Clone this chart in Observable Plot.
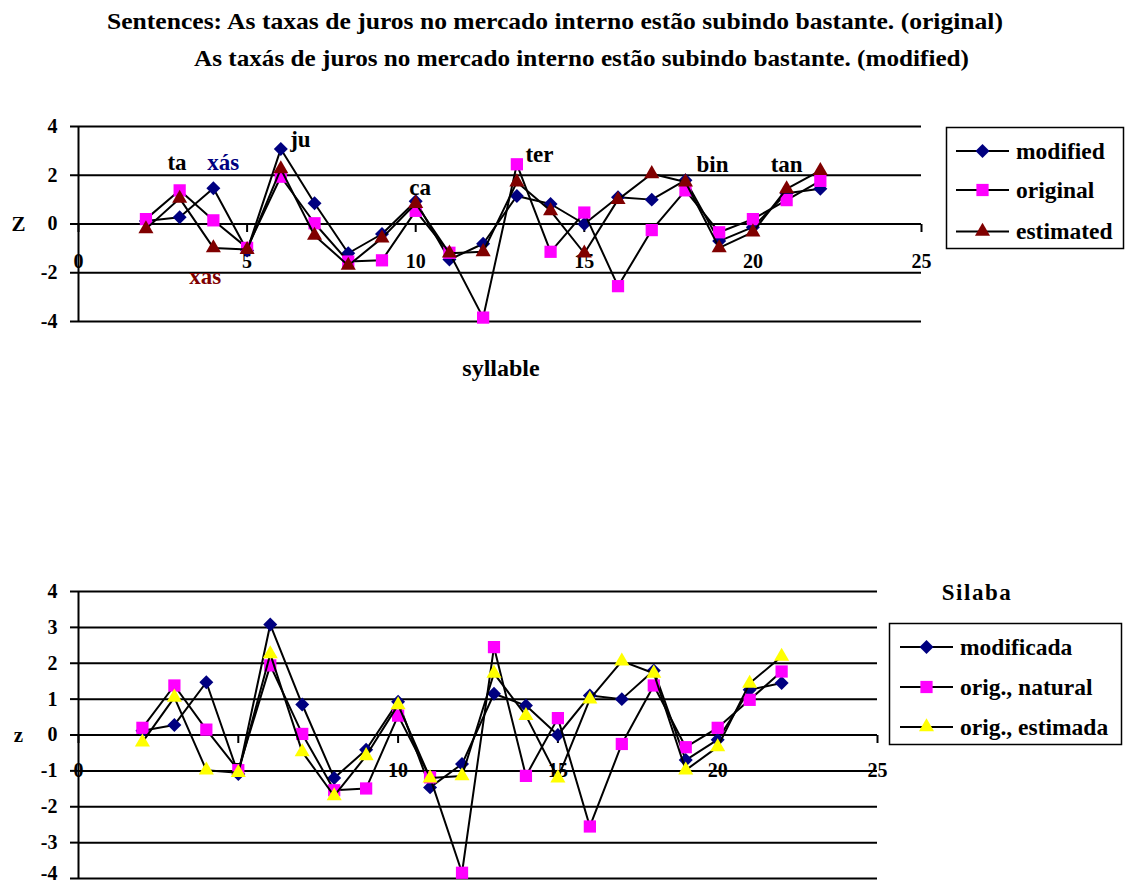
<!DOCTYPE html>
<html><head><meta charset="utf-8">
<script src="https://cdn.jsdelivr.net/npm/d3@7"></script>
<script src="https://cdn.jsdelivr.net/npm/@observablehq/plot@0.6"></script>
<style>
body{margin:0;background:#fff;}
#page{position:relative;width:1128px;height:884px;overflow:hidden;font-family:"Liberation Serif","Times New Roman",serif;font-weight:bold;background:#fff;}
.abs{position:absolute;left:0;}
</style></head><body><div id="page"></div>
<script>
// ---------- data ----------
const titleLines = [
  "Sentences: As taxas de juros no mercado interno estão subindo bastante. (original)",
  "As taxás de juros no mercado interno estão subindo bastante. (modified)"
];
const syllables = [2,3,4,5,6,7,8,9,10,11,12,13,14,15,16,17,18,19,20,21,22];
const modified  = [0.12,0.28,1.47,-1.09,3.08,0.85,-1.20,-0.41,0.93,-1.46,-0.81,1.15,0.82,0.00,1.10,1.00,1.80,-0.70,-0.13,1.26,1.45];
const original  = [0.20,1.38,0.15,-0.98,1.94,0.03,-1.54,-1.49,0.54,-1.18,-3.84,2.45,-1.14,0.47,-2.55,-0.25,1.38,-0.34,0.20,0.98,1.77];
const estimated = [-0.20,1.05,-0.98,-1.05,2.26,-0.47,-1.70,-0.58,0.84,-1.20,-1.14,1.72,0.54,-1.20,1.00,2.06,1.72,-0.98,-0.33,1.44,2.19];

const xTicks = [0,5,10,15,20,25];
const yTicksTop = [4,2,0,-2,-4];
const yTicksBottom = [4,3,2,1,0,-1,-2,-3,-4];

const namesTop = ["modified","original","estimated"];
const namesBottom = ["modificada","orig., natural","orig., estimada"];
const legendTitleBottom = "Silaba";

const annLabels = ["ta","xás","ju","xas","ca","ter","bin","tan"];
const annX = [2.92,4.29,6.58,3.76,10.13,13.67,18.8,21.0];
const annY = [2.51,2.51,3.45,-2.16,1.49,2.84,2.43,2.43];
const annColor = ["black","#000080","black","#800000","black","black","black","black"];

// ---------- styles ----------
const FONT = "'Liberation Serif', 'Times New Roman', serif";
const symbols = ["diamond2","square","triangle"];
const symR = [6.3, 6.9, 5.6];
const colorsTop = ["#000080","#FF00FF","#800000"];
const colorsBottom = ["#000080","#FF00FF","#FFFF00"];

const page = document.getElementById("page");

// ---------- title ----------
const tsvg = d3.create("svg").attr("width",1128).attr("height",80)
  .attr("class","abs").style("top","0px");
const tPos = [{x:555,y:29,len:896},{x:581.5,y:66,len:775}];
titleLines.forEach((t,i)=>{
  tsvg.append("text").attr("x",tPos[i].x).attr("y",tPos[i].y)
    .attr("text-anchor","middle").style("font-family",FONT).attr("font-weight","bold")
    .attr("font-size",23.5).attr("textLength",tPos[i].len).attr("lengthAdjust","spacingAndGlyphs")
    .text(t);
});
page.appendChild(tsvg.node());

// ---------- chart builder ----------
const tickDown = {draw(ctx){ ctx.moveTo(0,0); ctx.lineTo(0,8); }};

function series(vals){ return syllables.map((s,i)=>({x:s,y:vals[i]})); }

function makeChart(o){
  const marks = [];
  const low = o.yTicks[o.yTicks.length-1];
  marks.push(Plot.ruleY(o.yTicks,{y:d=>d,stroke:"black",strokeWidth:2}));
  marks.push(Plot.ruleX([0],{x:d=>d,stroke:"black",strokeWidth:2}));
  marks.push(Plot.axisY({ticks:o.yTicks,tickSize:8,tickPadding:13,
    tickFormat:d=>(o.lowShift && d===low) ? "" : String(d),label:null,
    fontSize:20,fontWeight:"bold",fontFamily:FONT,strokeWidth:2,stroke:"black",fill:"black"}));
  if(o.lowShift){
    marks.push(Plot.text([low],{y:d=>d,frameAnchor:"left",dx:-21,dy:o.lowShift,textAnchor:"end",
      text:d=>String(d),fontSize:20,fontWeight:"bold",fontFamily:FONT,fill:"black"}));
  }
  marks.push(Plot.dot(xTicks,{x:d=>d,y:()=>0,symbol:tickDown,stroke:"black",strokeWidth:2,r:3}));
  marks.push(Plot.text(xTicks,{x:d=>d,y:()=>0,dy:o.xdy,text:d=>String(d),fontSize:20,fontWeight:"bold",fontFamily:FONT,fill:"black"}));
  marks.push(Plot.text([0],{y:d=>d,frameAnchor:"left",dx:-60,textAnchor:"middle",lineAnchor:"middle",text:()=>o.yLabel,fontSize:21,fontWeight:"bold",fontFamily:FONT,fill:"black"}));
  if(o.xLabel) marks.push(Plot.text([o.xLabel],{frameAnchor:"bottom",dy:47,dx:1,lineAnchor:"middle",textAnchor:"middle",text:d=>d,fontSize:24,fontWeight:"bold",fontFamily:FONT,fill:"black"}));
  o.data.forEach((vals,i)=>{
    const d = series(vals);
    marks.push(Plot.line(d,{x:"x",y:"y",stroke:"black",strokeWidth:2}));
    marks.push(Plot.dot(d,{x:"x",y:"y",symbol:symbols[i],r:symR[i],fill:o.colors[i],stroke:"none"}));
  });
  if(o.ann){
    const a = annLabels.map((t,i)=>({t,x:annX[i],y:annY[i],c:annColor[i]}));
    marks.push(Plot.text(a,{x:"x",y:"y",text:"t",fill:"c",fontSize:23,fontWeight:"bold",fontFamily:FONT}));
  }
  const svg = Plot.plot({
    width:1128,height:o.height,
    marginTop:o.mt,marginBottom:o.mb,marginLeft:o.ml,marginRight:o.mr,
    x:{domain:[0,25],axis:null},
    y:{domain:[-4,4],axis:null},
    color:{type:"identity"},
    style:{background:"transparent",overflow:"visible",fontFamily:FONT},
    marks
  });
  svg.setAttribute("class","abs");
  svg.style.top = o.top+"px";
  page.appendChild(svg);
}

function makeLegend(o){
  const svg = d3.create("svg").attr("width",1128).attr("height",884)
    .attr("class","abs").style("top","0px").style("pointer-events","none");
  if(o.title){
    svg.append("text").attr("x",o.titleX).attr("y",o.titleY).attr("dy","0.35em")
      .attr("text-anchor","middle").style("font-family",FONT).attr("font-weight","bold")
      .attr("font-size",23).attr("letter-spacing",1.5).text(o.title);
  }
  svg.append("rect").attr("x",o.box[0]).attr("y",o.box[1]).attr("width",o.box[2]).attr("height",o.box[3])
    .attr("fill","white").attr("stroke","black").attr("stroke-width",1.5);
  o.names.forEach((n,i)=>{
    const y = o.ys[i];
    svg.append("line").attr("x1",o.lx[0]).attr("x2",o.lx[1]).attr("y1",y).attr("y2",y)
      .attr("stroke","black").attr("stroke-width",2);
    const sym = d3.symbol().type([d3.symbolDiamond2,d3.symbolSquare,d3.symbolTriangle][i])
      .size(Math.PI*symR[i]*symR[i]);
    svg.append("path").attr("d",sym()).attr("transform",`translate(${(o.lx[0]+o.lx[1])/2},${y})`)
      .attr("fill",o.colors[i]);
    svg.append("text").attr("x",o.tx).attr("y",y).attr("dy","0.33em")
      .style("font-family",FONT).attr("font-weight","bold").attr("font-size",23.5).text(n);
  });
  page.appendChild(svg.node());
}

// top chart
makeChart({top:100,height:300,mt:26,mb:79,ml:78,mr:207,yTicks:yTicksTop,yLabel:"Z",xLabel:"syllable",
  xdy:38,data:[modified,original,estimated],colors:colorsTop,ann:true});
// bottom chart
makeChart({top:560,height:324,mt:31,mb:6,ml:78,mr:251,yTicks:yTicksBottom,yLabel:"z",xLabel:null,
  xdy:36,lowShift:-5,data:[modified,original,estimated],colors:colorsBottom,ann:false});

makeLegend({box:[946.5,127.5,177,121],names:namesTop,ys:[151,190,231.5],lx:[956,1009],tx:1016,colors:colorsTop});
makeLegend({title:legendTitleBottom,titleX:977,titleY:592,box:[889.5,623.5,232,121],names:namesBottom,ys:[647,687,727],lx:[900,953],tx:960,colors:colorsBottom});
</script></body></html>
